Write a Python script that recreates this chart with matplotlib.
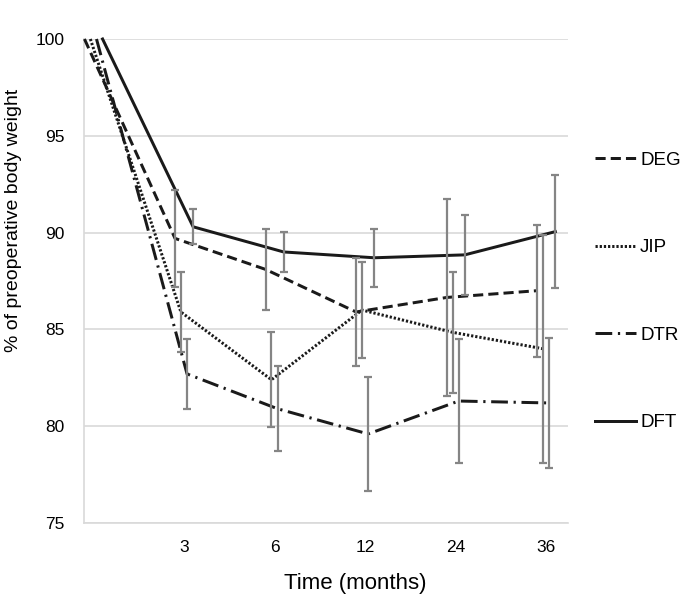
import numpy as np
import matplotlib
matplotlib.use("Agg")
import matplotlib.pyplot as plt

plt.rcParams['font.family'] = ['Liberation Sans', 'DejaVu Sans']

# time points (index 0 = preoperative baseline, no tick label)
months = ['', '3', '6', '12', '24', '36']

series_names = ['DEG', 'JIP', 'DTR', 'DFT']
DEG = [100, 89.7, 88.1, 85.9, 86.65, 87.0]
DEG_sd = [0, 2.5, 2.1, 2.8, 5.1, 3.4]
JIP = [100, 85.9, 82.4, 86.0, 84.85, 84.0]
JIP_sd = [0, 2.05, 2.45, 2.5, 3.13, 5.9]
DTR = [100, 82.7, 80.9, 79.6, 81.3, 81.2]
DTR_sd = [0, 1.8, 2.2, 2.95, 3.2, 3.35]
DFT = [100, 90.3, 89.0, 88.7, 88.85, 90.05]
DFT_sd = [0, 0.9, 1.05, 1.5, 2.05, 2.9]

values = [DEG, JIP, DTR, DFT]
errors = [DEG_sd, JIP_sd, DTR_sd, DFT_sd]
# small horizontal shift per series so the error bars don't overlap
offsets = [-0.1, -0.035, 0.033, 0.1]
styles = [(0, (3.4, 1.7)), (0, (0.75, 0.65)), (0, (5.6, 1.9, 0.75, 1.9)), '-']

line_col = '#1a1a1a'
err_col = '#858585'
grid_col = '#d9d9d9'

fig = plt.figure(figsize=(6.85, 5.97), dpi=100)
ax = fig.add_axes([84/685, 74/597, 484/685, 484/597])

x = np.arange(len(months))
handles = []
for name, v, e, off, ls in zip(series_names, values, errors, offsets, styles):
    xs = x + off
    h, = ax.plot(xs, v, color=line_col, lw=2.15, linestyle=ls, dash_capstyle='butt',
                 clip_on=False, zorder=3, label=name)
    handles.append(h)
    ax.errorbar(xs[1:], v[1:], yerr=e[1:], fmt='none', ecolor=err_col,
                elinewidth=1.6, capsize=2.6, capthick=1.6, zorder=4)

ax.set_xlim(-0.105, 5.24)
ax.set_ylim(75, 100)
ax.set_yticks([75, 80, 85, 90, 95, 100])
ax.set_xticks(x[1:])
ax.set_xticklabels(months[1:])
ax.tick_params(axis='both', length=0, labelsize=12.5)
ax.tick_params(axis='y', pad=14)
ax.tick_params(axis='x', pad=12)

ax.grid(axis='y', color=grid_col, lw=1.2)
ax.set_axisbelow(True)
for s in ['top', 'right']:
    ax.spines[s].set_visible(False)
for s in ['left', 'bottom']:
    ax.spines[s].set_color(grid_col)
    ax.spines[s].set_linewidth(1.2)

ax.set_xlabel('Time (months)', fontsize=16)
ax.xaxis.set_label_coords((355 - 84) / 484, -0.103)
ax.set_ylabel('% of preoperative body weight', fontsize=14)
ax.yaxis.set_label_coords(-0.128, 0.626)

ax.legend(handles=handles, loc='center left', bbox_to_anchor=(1.056, 0.478),
          frameon=False, fontsize=13.5, handlelength=2.2, handletextpad=0.2,
          labelspacing=3.75, borderpad=0, borderaxespad=0)

fig.savefig('out.png', dpi=100)
